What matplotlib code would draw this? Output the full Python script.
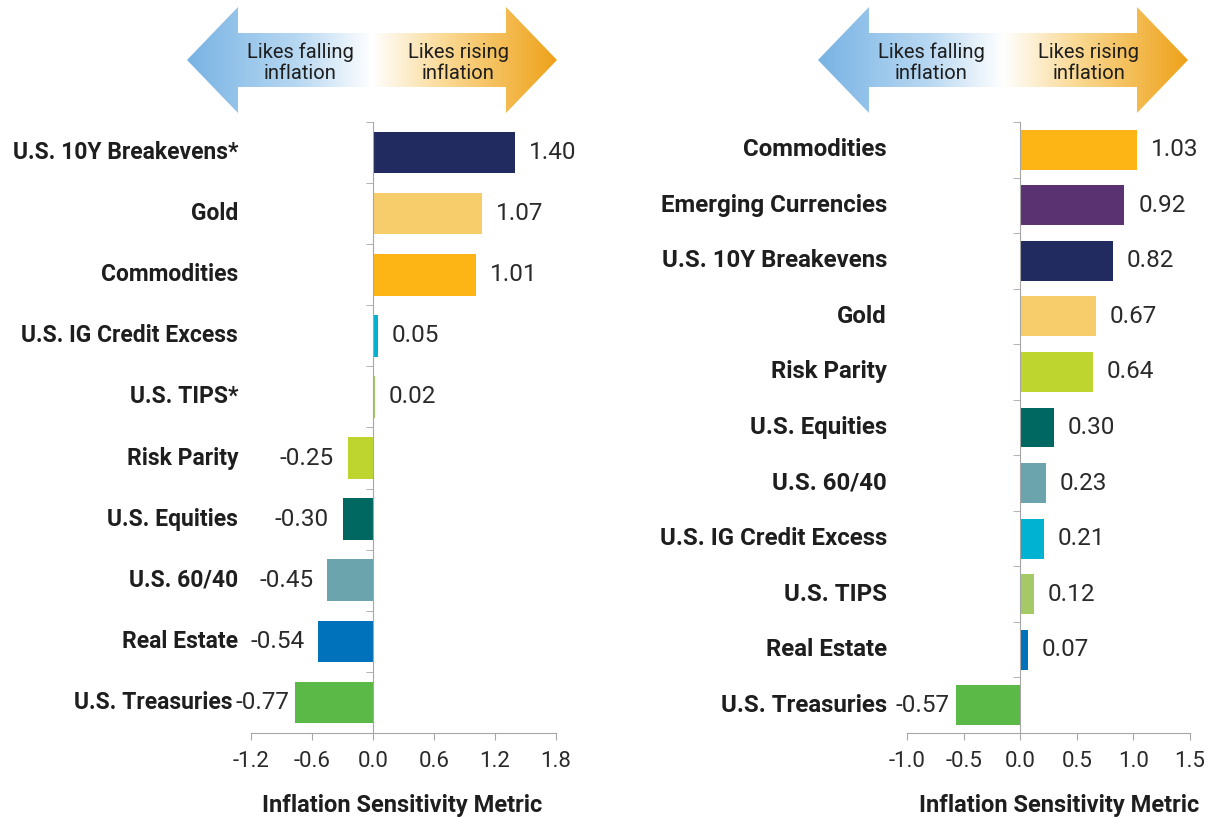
import numpy as np
import matplotlib.pyplot as plt
from matplotlib.colors import LinearSegmentedColormap
from matplotlib.patches import Polygon
from matplotlib.transforms import blended_transform_factory

plt.rcParams['font.family'] = ['Roboto', 'DejaVu Sans']
plt.rcParams['axes.unicode_minus'] = False

# 왼쪽 패널 데이터
left_labels = ['U.S. 10Y Breakevens*', 'Gold', 'Commodities', 'U.S. IG Credit Excess', 'U.S. TIPS*',
               'Risk Parity', 'U.S. Equities', 'U.S. 60/40', 'Real Estate', 'U.S. Treasuries ']
left_values = [1.40, 1.07, 1.01, 0.05, 0.02, -0.25, -0.30, -0.45, -0.54, -0.77]
left_colors = ['#222B5F', '#F7CD6B', '#FDB515', '#00B2D2', '#A5C967',
               '#BED42F', '#006860', '#6BA4AC', '#0072BC', '#5BB947']
left_ticks = [-1.2, -0.6, 0.0, 0.6, 1.2, 1.8]

# 오른쪽 패널 데이터
right_labels = ['Commodities', 'Emerging Currencies', 'U.S. 10Y Breakevens', 'Gold', 'Risk Parity',
                'U.S. Equities', 'U.S. 60/40', 'U.S. IG Credit Excess', 'U.S. TIPS', 'Real Estate',
                'U.S. Treasuries']
right_values = [1.03, 0.92, 0.82, 0.67, 0.64, 0.30, 0.23, 0.21, 0.12, 0.07, -0.57]
right_colors = ['#FDB515', '#5A3171', '#222B5F', '#F7CD6B', '#BED42F',
                '#006860', '#6BA4AC', '#00B2D2', '#A5C967', '#0072BC', '#5BB947']
right_ticks = [-1.0, -0.5, 0.0, 0.5, 1.0, 1.5]

arrow_left_text = 'Likes falling\ninflation'
arrow_right_text = 'Likes rising\ninflation'
xlabel_text = 'Inflation Sensitivity Metric'

W, H = 1211, 817
axis_gray = '#A6A6A6'
text_dark = '#1E1E1E'

arrow_cmap = LinearSegmentedColormap.from_list(
    'arrow', [(0.0, '#78B3E3'), (0.3, '#B8D8F2'), (0.5, '#FFFFFF'), (0.7, '#FAD993'), (1.0, '#EEA21A')])


def draw_panel(ax, labels, values, colors, ticks, label_x, bar_h, xlabel_x, cat_size):
    n = len(labels)
    y = np.arange(n)
    bars = ax.barh(y, values, height=bar_h, color=colors)
    texts = ax.bar_label(bars, labels=[f'{v:.2f}' for v in values], padding=10,
                         fontsize=17.5, color='#2A2A2A')
    ax.set_ylim(n - 0.5, -0.5)
    ax.set_xlim(ticks[0], ticks[-1])
    ax.set_xticks(ticks)
    ax.set_xticklabels([f'{t:.1f}' for t in ticks])

    ax.spines['top'].set_visible(False)
    ax.spines['right'].set_visible(False)
    ax.spines['left'].set_position(('data', 0))
    ax.spines['left'].set_color(axis_gray)
    ax.spines['bottom'].set_color(axis_gray)
    ax.set_yticks([])
    ax.set_yticks(np.arange(n + 1) - 0.5, minor=True)
    ax.tick_params(axis='y', which='minor', length=5, color=axis_gray, direction='out')
    ax.tick_params(axis='x', length=5, color=axis_gray, labelsize=16, pad=8, labelcolor='#2A2A2A')

    trans = blended_transform_factory(ax.transAxes, ax.transData)
    for yi, lab in zip(y, labels):
        ax.text(label_x, yi, lab, transform=trans, ha='right', va='center',
                fontsize=cat_size, fontweight='bold', color=text_dark)

    ax.set_xlabel(xlabel_text, fontsize=17, fontweight='bold', color=text_dark)
    ax.xaxis.set_label_coords(xlabel_x, -0.1)
    return texts


def clamp_labels(fig, ax, texts, overhang_px=11, min_gap_pt=3.5):
    # 엑셀처럼 음수 라벨이 플롯 영역 밖으로 너무 나가지 않게 당김
    renderer = fig.canvas.get_renderer()
    ax_left = ax.get_window_extent(renderer).x0
    for t in texts:
        bb = t.get_window_extent(renderer)
        over = (ax_left - overhang_px) - bb.x0
        if over > 0:
            dx, dy = t.xyann
            t.xyann = (min(dx + over * 72 / fig.dpi, -min_gap_pt), dy)


def draw_arrow(ax, x0, x1):
    yc, head, shaft, half_h = 60, 51, 27, 53
    pts = [(x0, yc), (x0 + head, yc - half_h), (x0 + head, yc - shaft), (x1 - head, yc - shaft),
           (x1 - head, yc - half_h), (x1, yc), (x1 - head, yc + half_h), (x1 - head, yc + shaft),
           (x0 + head, yc + shaft), (x0 + head, yc + half_h)]
    poly = Polygon(pts, closed=True, facecolor='none', edgecolor='none')
    ax.add_patch(poly)
    grad = np.linspace(0, 1, 256).reshape(1, -1)
    im = ax.imshow(grad, cmap=arrow_cmap, extent=(x0, x1, yc + half_h, yc - half_h),
                   aspect='auto', interpolation='bilinear')
    im.set_clip_path(poly)
    ax.text(x0 + 113, yc + 3, arrow_left_text, ha='center', va='center',
            fontsize=14.5, linespacing=1.12, color=text_dark)
    ax.text(x1 - 99, yc + 3, arrow_right_text, ha='center', va='center',
            fontsize=14.5, linespacing=1.12, color=text_dark)


fig = plt.figure(figsize=(W / 100, H / 100), dpi=100)

ax1 = fig.add_axes([251 / W, 1 - 733 / H, 305 / W, 611 / H])
t1 = draw_panel(ax1, left_labels, left_values, left_colors, left_ticks, -0.0426, 0.68, 0.495, 16.5)

ax2 = fig.add_axes([907 / W, 1 - 733 / H, 283 / W, 611 / H])
t2 = draw_panel(ax2, right_labels, right_values, right_colors, right_ticks, -0.0707, 0.72, 0.537, 17.3)

# 상단 화살표
ax0 = fig.add_axes([0, 0, 1, 1])
ax0.set_axis_off()
ax0.patch.set_alpha(0)
draw_arrow(ax0, 187, 557)
draw_arrow(ax0, 818, 1188)
ax0.set_xlim(0, W)
ax0.set_ylim(H, 0)

fig.canvas.draw()
clamp_labels(fig, ax1, t1)
clamp_labels(fig, ax2, t2)

fig.savefig('out.png', dpi=100)
